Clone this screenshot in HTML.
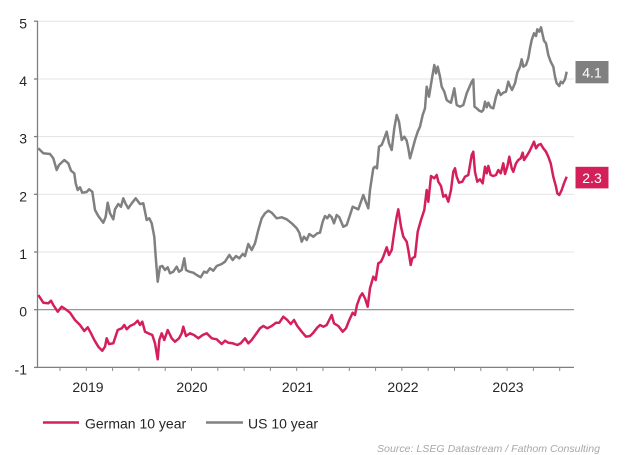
<!DOCTYPE html>
<html><head><meta charset="utf-8"><style>
html,body{margin:0;padding:0;background:#fff;}
svg{display:block;font-family:"Liberation Sans",Arial,sans-serif;}
</style></head><body>
<svg width="629" height="455" viewBox="0 0 629 455" xmlns="http://www.w3.org/2000/svg">
<rect width="629" height="455" fill="#fff"/>
<g stroke="#e3e3e3" stroke-width="1">
<line x1="38" y1="21.2" x2="574" y2="21.2"/>
<line x1="38" y1="79" x2="574" y2="79"/>
<line x1="38" y1="136.6" x2="574" y2="136.6"/>
<line x1="38" y1="194.3" x2="574" y2="194.3"/>
<line x1="38" y1="252" x2="574" y2="252"/>
</g>
<line x1="38" y1="309.7" x2="574" y2="309.7" stroke="#8a8a8a" stroke-width="1.2"/>
<g stroke="#7f7f7f" stroke-width="1.3">
<line x1="37.5" y1="21" x2="37.5" y2="367.5"/>
<line x1="37.5" y1="367.4" x2="574" y2="367.4"/>
<line x1="34" y1="21.2" x2="38" y2="21.2"/>
<line x1="34" y1="79" x2="38" y2="79"/>
<line x1="34" y1="136.6" x2="38" y2="136.6"/>
<line x1="34" y1="194.3" x2="38" y2="194.3"/>
<line x1="34" y1="252" x2="38" y2="252"/>
<line x1="34" y1="309.7" x2="38" y2="309.7"/>
<line x1="34" y1="367.4" x2="38" y2="367.4"/>
</g>
<g stroke="#8a8a8a" stroke-width="1">
<line x1="60" y1="367" x2="60" y2="371"/>
<line x1="86.3" y1="367" x2="86.3" y2="371"/>
<line x1="112.6" y1="367" x2="112.6" y2="371"/>
<line x1="138.9" y1="367" x2="138.9" y2="371"/>
<line x1="165.2" y1="367" x2="165.2" y2="371"/>
<line x1="191.5" y1="367" x2="191.5" y2="371"/>
<line x1="217.8" y1="367" x2="217.8" y2="371"/>
<line x1="244.1" y1="367" x2="244.1" y2="371"/>
<line x1="270.4" y1="367" x2="270.4" y2="371"/>
<line x1="296.7" y1="367" x2="296.7" y2="371"/>
<line x1="323" y1="367" x2="323" y2="371"/>
<line x1="349.3" y1="367" x2="349.3" y2="371"/>
<line x1="375.6" y1="367" x2="375.6" y2="371"/>
<line x1="401.9" y1="367" x2="401.9" y2="371"/>
<line x1="428.2" y1="367" x2="428.2" y2="371"/>
<line x1="454.5" y1="367" x2="454.5" y2="371"/>
<line x1="480.8" y1="367" x2="480.8" y2="371"/>
<line x1="507.1" y1="367" x2="507.1" y2="371"/>
<line x1="533.4" y1="367" x2="533.4" y2="371"/>
<line x1="559.7" y1="367" x2="559.7" y2="371"/>
</g>
<g font-size="14" fill="#262626" text-anchor="end">
<text x="27" y="28.5">5</text>
<text x="27" y="86">4</text>
<text x="27" y="143.6">3</text>
<text x="27" y="201.3">2</text>
<text x="27" y="259">1</text>
<text x="27" y="316.7">0</text>
<text x="27" y="374.4">-1</text>
</g>
<g font-size="14" fill="#262626" text-anchor="middle">
<text x="88" y="392">2019</text>
<text x="192" y="392">2020</text>
<text x="297.5" y="392">2021</text>
<text x="403" y="392">2022</text>
<text x="508" y="392">2023</text>
</g>
<polyline fill="none" stroke="#808080" stroke-width="2.5" stroke-linejoin="round" points="38.3,148.3 43.3,153.3 50,154 53.3,158.3 56.7,170 59,165 64.3,160 68.3,163.3 71,170.7 74.3,173.3 75.7,183.3 77.7,190 80,187.3 82.3,192.7 86.7,192 89,189.3 92.3,191.7 95,210 98.3,216 103.3,222.7 105.7,216.7 107.7,202.7 110,213.3 113.3,219.3 115,209.3 118.3,204 121,206.7 123.3,198.3 125.7,204 128.3,208.3 131.7,203.3 135.7,198.3 140,204 143.3,203.3 146.7,220 149.3,218.3 151.7,223.3 154.3,236.7 155.7,256.7 157.7,281.7 160,266.7 162.3,266 165,270 167.7,267.3 170,273.3 173.3,271.7 176.7,266.7 179,271.7 181.7,270 184.3,258.3 186,270 189.3,271.7 193.3,272.7 196.7,275 200.7,277.3 204,271.7 206.7,272.7 210,268.3 213.3,270.7 216.7,266 221.7,264 225,261.7 229.3,255 232.7,260 236,256 239.3,258.3 242.7,254 245,256 248.3,244 251.7,250 255,243.3 258.3,230 261.7,218.3 265,213.3 268.3,210.7 271.7,212.7 276.7,218.3 281.7,217.3 286.7,219.3 291.7,223.3 296.7,228.3 299.3,232.7 301.7,241.7 304,236.7 306.7,240 309.3,234 313.3,236.7 317.3,233.3 320,232.7 322.7,221.7 325,216 327.3,218.3 329.3,215 331.7,217.3 334,223.3 336.7,215 339.3,217.3 343.3,226.7 346.7,225 350,215 352.7,206.7 356,208.3 358.3,209.3 361,201.7 363.3,195 365.7,201.7 368.3,208.3 370,190 373.3,168.3 375,166.7 377,168.3 379,146.7 381.7,145 384.3,138.3 386.7,131.7 389,143.3 391.7,150 394.3,128.3 396.7,115 399,121.7 401.7,140 404.3,136.7 406.7,140.7 408.3,148.3 410,158.3 412.3,150 415,140 417.7,131.7 420,126.7 422.7,115 425,108.3 426.7,86.7 429,96.7 431.7,80 434.3,65 436,73.3 437.7,66.7 440,76.7 441.7,86.7 444.3,91.7 446.7,100 449,101.7 451,102.7 454.3,88.3 456.7,105 460,106.7 463.3,105 466.7,93.3 471.7,81.7 473.3,79.5 474.5,106.7 476.7,108.3 479.3,110.7 481.7,111.7 483.3,110 485,101.7 486.7,107.3 488.3,102.7 490.7,107.3 493.3,108.3 496,96.7 498.3,90 500.7,95 503.3,92.7 506,91.7 508.3,81.7 510,86 512,90 515,83.3 517.3,72.7 520,66.7 521.7,59.3 523.3,66.7 526,65 528.3,58.3 530,48.3 531.7,40 534,33.3 536,36 537.3,29.3 539.3,31.7 541,27.3 542.7,35 544,40.7 546,43.3 548.3,55 550.7,61.7 553.3,66.7 555,76.7 556.7,83.3 559.3,86 560.7,81.7 562.7,83.3 565,79.3 566.7,71.7"/>
<polyline fill="none" stroke="#d4205a" stroke-width="2.5" stroke-linejoin="round" points="38.3,295 43.3,302.7 48.3,303.3 51,300.7 53.3,305 57.7,311.7 61.7,306.7 65.7,309.3 70,312.7 75,320 80,325 84.3,331 87.7,327.3 91,333.3 94.3,340 98.3,346.7 102.3,350.7 105,346.7 106.7,338.3 109,344 113.3,343.3 117.7,330 121.7,328.3 124.3,325 126.7,329.3 130,326 134.3,324 137.7,320.7 140,325 142.3,321.7 145,331.7 148.3,333.3 152.3,335 155,343.3 157.7,359.3 159.3,340 161.7,333.3 164.3,340 167.7,330 171.7,338.3 175,341.7 179,338.3 181.7,333.3 183.3,326.7 186,336 190,333.3 194,335 198.3,338.3 202.7,335 206.7,333.3 211.7,338.3 216.7,339.3 221.7,344 225,340.7 228.3,342.7 232.7,343.3 237.3,345 240.7,343.3 245,338.3 248.3,343.3 251.7,340 256,334 260,328.3 263.3,326 267.3,328.3 271.7,326 276,322.7 279.3,322.7 283.3,316.7 287.3,320 290.7,324 294,320 297.3,326 301.7,331.7 306,336.7 310,336 313.3,332.7 316.7,328.3 320,325 323.3,326.7 326.7,325 331.7,315 334,323.3 338.3,326 342.7,331.7 346,328.3 349.3,320 352.7,312.7 355,315 357,305 360,296.7 362.3,293.3 365,298.3 367.7,306.7 370,288.3 373.3,276.7 375.7,280 378.3,263.3 381,261.7 383.3,256.7 386.7,247.3 389,255 391.7,250 394.3,231.7 396.7,216.7 398.3,209.3 401,226.7 403.3,236.7 406.7,241.7 408.3,250 410.7,265 412.3,258.3 415,256.7 417.7,231.7 421,220 424.3,210 426.7,190 428.3,201.7 431,176 434.3,178.3 436.7,175 438.3,181.7 441,186 443.3,196.7 445.7,195 448.3,201.7 451,190 453.3,171.7 455,168.3 456.7,176.7 459,182.7 462.3,181.7 465,176.7 468.3,175 471.7,155 473.3,151.7 475,172 477.3,181.7 480,179.3 482.7,183.3 485,166.7 486.7,173.3 488.3,166 490.7,175 493.3,176 496,175 498.3,170 500.7,173.3 503.3,163.3 505,174 507.3,166.7 509.3,156.7 511.7,168.3 513.3,171.7 516,163.3 518.3,160 520.7,158.3 522.7,152.7 524,160 526.7,156 529.3,151.7 531.7,146.7 534,141.7 536,148.3 538.3,145 540.7,144 543.3,148.3 546,151.7 548.3,156.7 550.7,163.3 553.3,176.7 556,186.7 557.3,193.3 559.3,195 561.7,190 564,183.3 566.7,176.7"/>
<rect x="575.5" y="61" width="33" height="22.3" fill="#808080"/>
<text x="592" y="77.3" font-size="14" fill="#fff" text-anchor="middle">4.1</text>
<rect x="575.5" y="166.8" width="33" height="21.6" fill="#d4205a"/>
<text x="592" y="182.8" font-size="14" fill="#fff" text-anchor="middle">2.3</text>
<line x1="43" y1="422.5" x2="79" y2="422.5" stroke="#d4205a" stroke-width="2.5"/>
<text x="85" y="428.5" font-size="14" fill="#262626">German 10 year</text>
<line x1="206" y1="422.5" x2="243" y2="422.5" stroke="#808080" stroke-width="2.5"/>
<text x="248" y="428.5" font-size="14" fill="#262626">US 10 year</text>
<text x="377" y="452" font-size="10.5" font-style="italic" fill="#a8a8a8" textLength="223" lengthAdjust="spacingAndGlyphs">Source: LSEG Datastream / Fathom Consulting</text>
</svg>
</body></html>
